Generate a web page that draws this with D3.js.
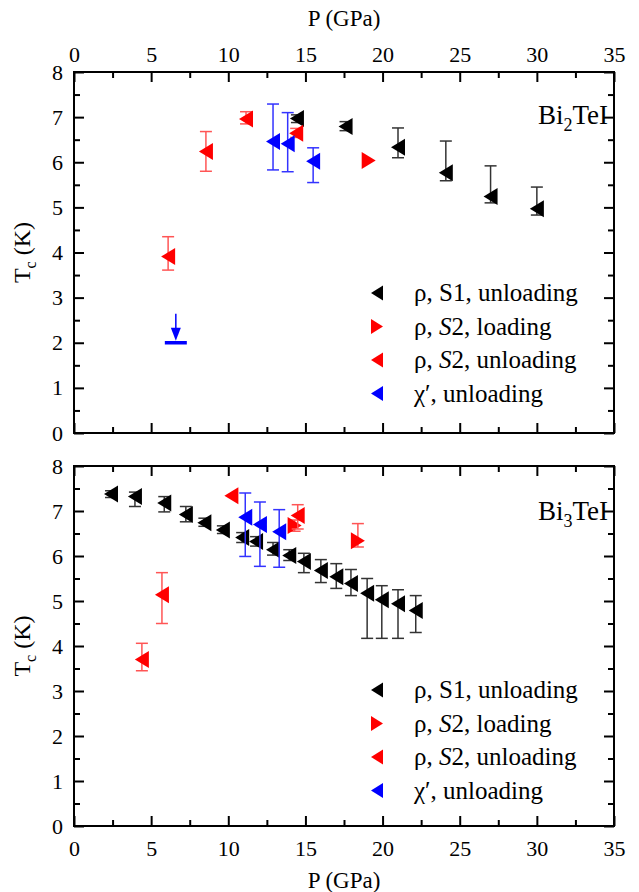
<!DOCTYPE html>
<html lang="en">
<head>
<meta charset="UTF-8">
<title>Tc vs P</title>
<style>
  body { margin: 0; background: #fff; }
  svg text { font-family: "Liberation Serif", "Times New Roman", serif; fill: #000; }
</style>
</head>
<body>
<svg id="cont" width="639" height="892" font-family="Liberation Serif"></svg>
<script src="https://cdn.jsdelivr.net/npm/d3@7"></script>
<script>
// ---- Bi2TeI (top panel) ----
let bi2S1P  = [14.45, 17.6, 21.0, 24.1, 27.0, 30.0];
let bi2S1T  = [6.97, 6.79, 6.33, 5.77, 5.24, 4.97];
let bi2S1Lo = [6.88, 6.70, 6.10, 5.59, 5.10, 4.83];
let bi2S1Hi = [7.05, 6.90, 6.76, 6.47, 5.92, 5.45];

let bi2LoadP  = [19.1];
let bi2LoadT  = [6.04];
let bi2LoadLo = [6.04];
let bi2LoadHi = [6.04];

let bi2UnlP  = [6.1, 8.55, 11.15, 14.4];
let bi2UnlT  = [3.91, 6.24, 6.96, 6.64];
let bi2UnlLo = [3.61, 5.80, 6.85, 6.55];
let bi2UnlHi = [4.35, 6.68, 7.12, 6.75];

let bi2ChiP  = [12.9, 13.85, 15.5];
let bi2ChiT  = [6.46, 6.41, 6.02];
let bi2ChiLo = [5.83, 5.79, 5.55];
let bi2ChiHi = [7.29, 7.10, 6.32];

// upper limit (arrow) for chi'
let bi2LimitP = [6.6];
let bi2LimitT = [2.0];

// ---- Bi3TeI (bottom panel) ----
let bi3S1P  = [2.4, 3.95, 5.85, 7.25, 8.45, 9.65, 10.9, 11.8, 12.9, 13.95, 14.9, 16.0, 17.0, 17.95, 19.0, 19.95, 21.0, 22.15];
let bi3S1T  = [7.38, 7.32, 7.18, 6.92, 6.74, 6.58, 6.41, 6.32, 6.14, 6.01, 5.88, 5.68, 5.54, 5.39, 5.17, 5.03, 4.94, 4.79];
let bi3S1Lo = [7.30, 7.10, 6.98, 6.76, 6.66, 6.50, 6.30, 6.22, 6.02, 5.90, 5.63, 5.41, 5.28, 5.12, 4.17, 4.17, 4.17, 4.30];
let bi3S1Hi = [7.45, 7.42, 7.32, 7.10, 6.84, 6.67, 6.52, 6.43, 6.30, 6.14, 6.06, 5.92, 5.83, 5.70, 5.50, 5.34, 5.25, 5.12];

let bi3LoadP  = [14.3, 18.4];
let bi3LoadT  = [6.68, 6.34];
let bi3LoadLo = [6.55, 6.20];
let bi3LoadHi = [6.80, 6.72];

let bi3UnlP  = [4.4, 5.7, 10.2, 14.5];
let bi3UnlT  = [3.70, 5.14, 7.34, 6.90];
let bi3UnlLo = [3.45, 4.50, 7.34, 6.60];
let bi3UnlHi = [4.06, 5.63, 7.34, 7.14];

let bi3ChiP  = [11.1, 12.05, 13.3];
let bi3ChiT  = [6.86, 6.70, 6.54];
let bi3ChiLo = [5.99, 5.77, 5.75];
let bi3ChiHi = [7.40, 7.20, 7.03];

let xTicks = [0, 5, 10, 15, 20, 25, 30, 35];
let yTicks = [0, 1, 2, 3, 4, 5, 6, 7, 8];
let legendNames = ["ρ, S1, unloading", "ρ, S2, loading", "ρ, S2, unloading", "χ′, unloading"];

function zip(P, T, lo, hi) {
  return P.map((p, i) => ({ P: p, T: T[i], lo: lo[i], hi: hi[i] }));
}

let svg = d3.select("#cont");
let x = d3.scaleLinear().domain([0, 35]).range([74, 614]);
let minorX = d3.range(2.5, 35, 5);
let minorY = d3.range(0.5, 8, 1);
const serif = "Liberation Serif";

function triPath(dir, w, h) {
  if (dir == "left") return `M${-w/2},0L${w/2},${-h/2}L${w/2},${h/2}Z`;
  return `M${w/2},0L${-w/2},${-h/2}L${-w/2},${h/2}Z`;
}

function panel(top, bottom, showTop, showBottom, series, label, legendY, labelY) {
  let y = d3.scaleLinear().domain([0, 8]).range([bottom, top]);
  let g = svg.append("g");

  // axes, ticks pointing inward
  function addAxis(axisFn, scale, vals, size, pad, tr, fmt) {
    let a = g.append("g").attr("transform", tr)
      .call(axisFn(scale).tickValues(vals).tickSize(size).tickPadding(pad).tickFormat(fmt));
    a.attr("font-family", serif).attr("font-size", 22);
    a.select(".domain").remove();
    a.selectAll("line").attr("stroke", "#000").attr("stroke-width", 2);
    a.selectAll("text").style("font-size", "22px").style("font-family", serif);
    return a;
  }
  let noLab = () => "";
  addAxis(d3.axisBottom, x, xTicks, -10, 14, `translate(0,${bottom})`, showBottom ? d3.format("d") : noLab);
  addAxis(d3.axisBottom, x, minorX, -6, 0, `translate(0,${bottom})`, noLab);
  addAxis(d3.axisTop, x, xTicks, -10, 10, `translate(0,${top})`, showTop ? d3.format("d") : noLab);
  addAxis(d3.axisTop, x, minorX, -6, 0, `translate(0,${top})`, noLab);
  addAxis(d3.axisLeft, y, yTicks, -10, 11, `translate(74,0)`, d3.format("d"));
  addAxis(d3.axisLeft, y, minorY, -6, 0, `translate(74,0)`, noLab);
  addAxis(d3.axisRight, y, yTicks, -10, 0, `translate(614,0)`, noLab);
  addAxis(d3.axisRight, y, minorY, -6, 0, `translate(614,0)`, noLab);

  g.append("rect").attr("x", 74).attr("y", top).attr("width", 540).attr("height", bottom - top)
    .attr("fill", "none").attr("stroke", "#000").attr("stroke-width", 2);

  // y label
  let yl = g.append("text").attr("transform", `translate(30,${(top + bottom) / 2}) rotate(-90)`)
    .attr("text-anchor", "middle").style("font-size", "24px");
  yl.append("tspan").text("T");
  yl.append("tspan").attr("dy", 6).style("font-size", "16px").text("c");
  yl.append("tspan").attr("dy", -6).text(" (K)");

  // data: error bars first, markers on top
  series.forEach(s => {
    let eb = g.append("g");
    s.data.forEach(d => {
      if (d.hi - d.lo < 0.05) return;
      let px = x(d.P);
      eb.append("line").attr("x1", px).attr("x2", px).attr("y1", y(d.lo)).attr("y2", y(d.hi))
        .attr("stroke", s.bar).attr("stroke-width", 1.5);
      [d.lo, d.hi].forEach(v => {
        eb.append("line").attr("x1", px - 6).attr("x2", px + 6).attr("y1", y(v)).attr("y2", y(v))
          .attr("stroke", s.bar).attr("stroke-width", 1.5);
      });
    });
    g.append("g").selectAll("path").data(s.data).enter().append("path")
      .attr("d", triPath(s.dir, 14, 17))
      .attr("transform", d => `translate(${x(d.P)},${y(d.T)})`)
      .attr("fill", s.color);
  });

  // legend
  series.forEach((s, i) => {
    let ly = legendY + i * 33.5;
    g.append("path").attr("d", triPath(s.dir, 12, 15))
      .attr("transform", `translate(377,${ly})`).attr("fill", s.color);
    let t = g.append("text").attr("x", 414).attr("y", ly + 8).style("font-size", "25px");
    let name = legendNames[i];
    if (name.indexOf("S2") >= 0) {
      let parts = name.split("S2");
      t.append("tspan").text(parts[0]);
      t.append("tspan").style("font-style", "italic").text("S");
      t.append("tspan").text("2" + parts[1]);
    } else {
      t.text(name);
    }
  });

  // compound label
  let cl = g.append("text").attr("x", 538).attr("y", labelY).style("font-size", "27px");
  cl.append("tspan").text("Bi");
  cl.append("tspan").attr("dy", 7).style("font-size", "18px").text(label);
  cl.append("tspan").attr("dy", -7).text("TeI");

  return { g: g, y: y };
}

let topPanel = panel(72, 433, true, false, [
  { data: zip(bi2S1P, bi2S1T, bi2S1Lo, bi2S1Hi), dir: "left", color: "#000", bar: "#333" },
  { data: zip(bi2LoadP, bi2LoadT, bi2LoadLo, bi2LoadHi), dir: "right", color: "#f00", bar: "#f55" },
  { data: zip(bi2UnlP, bi2UnlT, bi2UnlLo, bi2UnlHi), dir: "left", color: "#f00", bar: "#f55" },
  { data: zip(bi2ChiP, bi2ChiT, bi2ChiLo, bi2ChiHi), dir: "left", color: "#00f", bar: "#33f" }
], "2", 293, 124);

// upper-limit arrow for chi' in Bi2TeI
bi2LimitP.forEach((p, i) => {
  let g = topPanel.g, y = topPanel.y;
  let px = x(p), py = y(bi2LimitT[i]);
  g.append("line").attr("x1", px - 11).attr("x2", px + 11).attr("y1", py).attr("y2", py)
    .attr("stroke", "#00f").attr("stroke-width", 3.5);
  g.append("line").attr("x1", px).attr("x2", px).attr("y1", py - 29).attr("y2", py - 12)
    .attr("stroke", "#00f").attr("stroke-width", 1.5);
  g.append("path").attr("d", `M${px - 5},${py - 15}L${px + 5},${py - 15}L${px},${py - 2}Z`).attr("fill", "#00f");
});

panel(466, 826, false, true, [
  { data: zip(bi3S1P, bi3S1T, bi3S1Lo, bi3S1Hi), dir: "left", color: "#000", bar: "#333" },
  { data: zip(bi3LoadP, bi3LoadT, bi3LoadLo, bi3LoadHi), dir: "right", color: "#f00", bar: "#f55" },
  { data: zip(bi3UnlP, bi3UnlT, bi3UnlLo, bi3UnlHi), dir: "left", color: "#f00", bar: "#f55" },
  { data: zip(bi3ChiP, bi3ChiT, bi3ChiLo, bi3ChiHi), dir: "left", color: "#00f", bar: "#33f" }
], "3", 690, 520);

// axis titles
svg.append("text").attr("x", 344).attr("y", 26).attr("text-anchor", "middle")
  .style("font-size", "23px").text("P (GPa)");
svg.append("text").attr("x", 344).attr("y", 888).attr("text-anchor", "middle")
  .style("font-size", "23px").text("P (GPa)");
</script>
</body>
</html>
